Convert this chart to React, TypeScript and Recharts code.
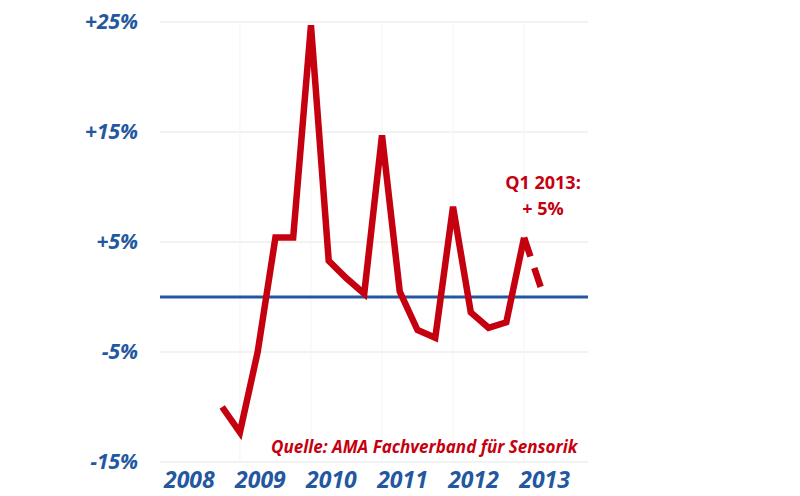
import React from "react";
import { LineChart, Line, XAxis, YAxis, CartesianGrid, ReferenceLine } from "recharts";

const quarters = [
  "2008 Q4", "2009 Q1", "2009 Q2", "2009 Q3", "2009 Q4",
  "2010 Q1", "2010 Q2", "2010 Q3", "2010 Q4",
  "2011 Q1", "2011 Q2", "2011 Q3", "2011 Q4",
  "2012 Q1", "2012 Q2", "2012 Q3", "2012 Q4",
  "2013 Q1", "2013 Q2",
];
const actual: (number | null)[] = [
  -10, -12.3, -5, 5.4, 5.4,
  24.7, 3.3, 1.7, 0.3,
  14.7, 0.5, -3, -3.7,
  8.2, -1.4, -2.8, -2.3,
  5.4, null,
];
const forecast: (number | null)[] = [
  null, null, null, null, null,
  null, null, null, null,
  null, null, null, null,
  null, null, null, null,
  5.4, 0.6,
];
const yearLabels = ["2008", "2009", "2010", "2011", "2012", "2013"];
const yTicks = [-15, -5, 5, 15, 25];

const RED = "#c5000f";
const BLUE = "#2358a0";

const data = quarters.map((q, i) => {
  const [y, qq] = q.split(" ");
  return {
    label: q,
    idx: (Number(y) - 2008) * 4 + (Number(qq.slice(1)) - 1),
    actual: actual[i],
    forecast: forecast[i],
  };
});
const yearTicks = yearLabels.map((y) => (Number(y) - 2008) * 4);

const fontFam = "'Open Sans', 'DejaVu Sans', sans-serif";

const XTick = (props: any) => {
  const { x, y, payload } = props;
  const year = 2008 + payload.value / 4;
  return (
    <text x={x + 20.5} y={y} dy={12} textAnchor="middle" dominantBaseline="middle"
      fill={BLUE} fontFamily={fontFam} fontWeight="bold" fontStyle="italic" fontSize={23}>
      {String(year)}
    </text>
  );
};

export default function App() {
  return (
    <div style={{ position: "absolute", left: 0, top: 0, width: 800, height: 496, background: "#fff" }}>
      <LineChart width={800} height={496} data={data}
        margin={{ top: 22, right: 212, bottom: 0, left: 0 }}>
        <CartesianGrid vertical={false} stroke="#eeeeee" strokeWidth={1.5} />
        {[4, 8, 12, 16, 20].map((v) => (
          <ReferenceLine key={v} x={v} stroke="#f6f6f6" strokeWidth={1.2} />
        ))}
        <XAxis dataKey="idx" type="number" domain={[-0.5, 23.6]} ticks={yearTicks}
          tick={<XTick />} tickLine={false} axisLine={false} height={34} interval={0} />
        <YAxis type="number" domain={[-15, 25]} ticks={yTicks} width={160}
          tickLine={false} axisLine={false} tickSize={6} tickMargin={16}
          tickFormatter={(v: number) => (v > 0 ? `+${v}%` : `${v}%`)}
          tick={{ fill: BLUE, fontFamily: fontFam, fontWeight: "bold", fontStyle: "italic", fontSize: 21 }} />
        <ReferenceLine y={0} stroke={BLUE} strokeWidth={3} />
        <Line dataKey="actual" stroke={RED} strokeWidth={6.5} dot={false} isAnimationActive={false}
          strokeLinejoin="miter" connectNulls={false} />
        <Line dataKey="forecast" stroke={RED} strokeWidth={6.5} dot={false} isAnimationActive={false}
          strokeDasharray="20 12" connectNulls={false} />
      </LineChart>
      <div style={{ position: "absolute", left: 460, width: 166, top: 169, textAlign: "center", color: RED,
        fontFamily: fontFam, fontWeight: "bold", fontSize: 18, lineHeight: "26px" }}>
        Q1 2013:<br />+ 5%
      </div>
      <div style={{ position: "absolute", left: 271, top: 435, color: RED, fontFamily: fontFam,
        fontWeight: "bold", fontStyle: "italic", fontSize: 17, whiteSpace: "nowrap" }}>
        Quelle: AMA Fachverband für Sensorik
      </div>
    </div>
  );
}
